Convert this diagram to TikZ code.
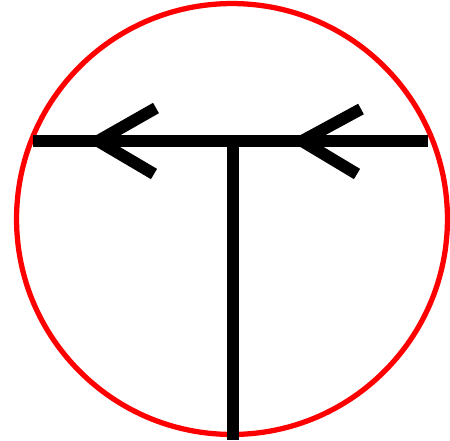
\documentclass[tikz,border=0pt]{standalone}
\usepackage{tikz}
\usetikzlibrary{positioning}

\begin{document}
\begin{tikzpicture}[
    x=0.02cm, y=-0.02cm,
    ring/.style={draw=red, line width=3pt},
    wire/.style={draw=black, line width=6.8pt},
    chevron/.style={draw=black, line width=6.8pt, miter limit=10}
]
\useasboundingbox (0,0) rectangle (450,440);

% Circle
\node[circle, ring, minimum size=8.62cm, inner sep=0pt] (loop) at (232,219) {};

% Wires
\coordinate (west) at (33,141);
\coordinate (east) at (428,141);
\coordinate (tee) at (233,141);
\coordinate (foot) at (233,440);

\draw[wire] (west) -- (east);
\draw[wire] (tee) -- (foot);

% Arrowheads
\coordinate (tipA) at (98,141);
\coordinate (tipB) at (302,141);
\draw[chevron] (156,108) -- (tipA) -- (154,174);
\draw[chevron] (361,109) -- (tipB) -- (357,174);

\end{tikzpicture}
\end{document}
